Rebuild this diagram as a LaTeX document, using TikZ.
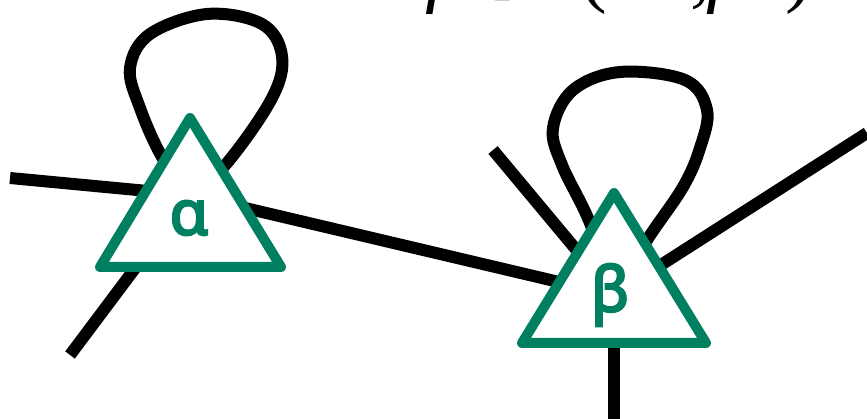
\documentclass[tikz,border=0pt]{standalone}
\usepackage{fix-cm}
\usepackage{fontspec}
\setmainfont{Liberation Serif}
\newfontfamily\lblfont[FakeBold=4]{Noto Sans}
\definecolor{tgreen}{HTML}{008060}
\newcommand{\gl}[2]{\makebox[#1pt][l]{#2}}
\begin{document}
\begin{tikzpicture}[x=1pt,y=-1pt,
  leg/.style={line width=12pt,black},
  tri/.style={line width=10pt,draw=tgreen,fill=white,line join=round},
  lbl/.style={text=tgreen,font=\lblfont\fontsize{62}{62}\selectfont,inner sep=0pt}]
\useasboundingbox (0,0) rectangle (867,419);
\node[anchor=base west,inner sep=0pt,font=\fontsize{80}{80}\selectfont] (title) at (425,-2)
  {\gl{40}{\itshape f}\gl{42}{$\in$}\gl{73}{\itshape F}\gl{44}{(}\gl{66}{\itshape α}\gl{18}{,}\gl{77}{\itshape β})};
\coordinate (A) at (190,195);
\coordinate (B) at (614,295);
\coordinate (a1) at (10,178);
\coordinate (a2) at (70,355);
\coordinate (b1) at (493,150);
\coordinate (b2) at (867,133);
\coordinate (b3) at (614,425);
\draw[leg] (a1) -- (A);
\draw[leg] (a2) -- (A);
\draw[leg] (A) -- (B);
\draw[leg] (b1) -- (B);
\draw[leg] (b2) -- (B);
\draw[leg] (b3) -- (B);
\draw[leg] plot[smooth,tension=0.6] coordinates {(A) (162,157) (140,108) (130,68) (150,34) (207,14) (262,24) (282,56) (272,98) (227,163) (A)};
\draw[leg] plot[smooth,tension=0.6] coordinates {(B) (590,223) (562,165) (553,128) (573,90) (620,72) (685,80) (707,110) (700,148) (683,187) (647,240) (B)};
\filldraw[tri] (190,118) -- (281,267) -- (100,267) -- cycle;
\filldraw[tri] (614,193) -- (706,343) -- (522,343) -- cycle;
\node[lbl] (la) at (189,218) {α};
\node[lbl] (lb) at (610,295) {β};
\end{tikzpicture}
\end{document}
